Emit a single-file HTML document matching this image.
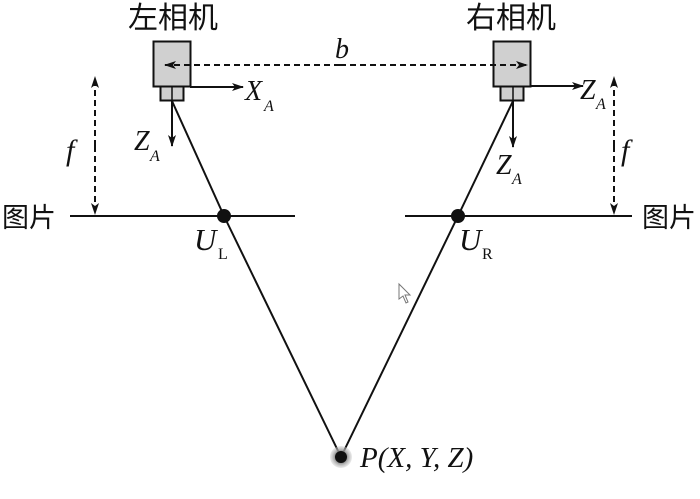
<!DOCTYPE html>
<html><head><meta charset="utf-8"><style>
html,body{margin:0;padding:0;background:#fff;}
svg{display:block;}
.cn{font-family:"Liberation Sans","Noto Sans CJK SC",sans-serif;font-size:27px;fill:#111;}
.it{font-family:"Liberation Serif",serif;font-style:italic;fill:#111;}
.rm{font-family:"Liberation Serif",serif;fill:#111;}
</style></head><body>
<svg width="700" height="499" viewBox="0 0 700 499" xmlns="http://www.w3.org/2000/svg">
<defs>
<marker id="ah" viewBox="0 0 12 8" refX="11" refY="4" markerWidth="12" markerHeight="8" markerUnits="userSpaceOnUse" orient="auto">
<path d="M0,0 L12,4 L0,8 L3,4 Z" fill="#111"/>
</marker>
<radialGradient id="halo"><stop offset="0.5" stop-color="#888"/><stop offset="1" stop-color="#ccc" stop-opacity="0.4"/></radialGradient>
</defs>
<text class="cn" x="128" y="28" font-size="30" style="font-size:30px">左相机</text>
<text class="cn" x="466" y="28" style="font-size:30px">右相机</text>
<!-- left camera -->
<rect x="153.5" y="41.5" width="37" height="45" fill="#d0d0d0" stroke="#111" stroke-width="2"/>
<rect x="160.5" y="86.5" width="23" height="14" fill="#d0d0d0" stroke="#111" stroke-width="2"/>
<line x1="172" y1="86" x2="172" y2="101" stroke="#111" stroke-width="1.5"/>
<!-- right camera -->
<rect x="493.5" y="41.5" width="37" height="45" fill="#d0d0d0" stroke="#111" stroke-width="2"/>
<rect x="500.5" y="86.5" width="23" height="14" fill="#d0d0d0" stroke="#111" stroke-width="2"/>
<line x1="513" y1="86" x2="513" y2="101" stroke="#111" stroke-width="1.5"/>
<!-- b dashed -->
<line x1="340" y1="65" x2="165" y2="65" stroke="#111" stroke-width="2" stroke-dasharray="6,4" marker-end="url(#ah)"/>
<line x1="340" y1="65" x2="527" y2="65" stroke="#111" stroke-width="2" stroke-dasharray="6,4" marker-end="url(#ah)"/>
<text class="it" x="335" y="58" font-size="28">b</text>
<!-- axes -->
<line x1="190" y1="87" x2="243" y2="87" stroke="#111" stroke-width="2" marker-end="url(#ah)"/>
<text class="it" x="245" y="100" font-size="28">X</text><text class="it" x="264" y="111" font-size="16">A</text>
<line x1="172" y1="101" x2="172" y2="146" stroke="#111" stroke-width="2" marker-end="url(#ah)"/>
<text class="it" x="134" y="150" font-size="28">Z</text><text class="it" x="150" y="161" font-size="16">A</text>
<line x1="530" y1="86" x2="583" y2="86" stroke="#111" stroke-width="2" marker-end="url(#ah)"/>
<text class="it" x="580" y="99" font-size="28">Z</text><text class="it" x="596" y="109" font-size="16">A</text>
<line x1="513" y1="101" x2="513" y2="147" stroke="#111" stroke-width="2" marker-end="url(#ah)"/>
<text class="it" x="496" y="174" font-size="28">Z</text><text class="it" x="512" y="184" font-size="16">A</text>
<!-- f arrows -->
<line x1="95" y1="146" x2="95" y2="77" stroke="#111" stroke-width="2" stroke-dasharray="6,4" marker-end="url(#ah)"/>
<line x1="95" y1="146" x2="95" y2="214" stroke="#111" stroke-width="2" stroke-dasharray="6,4" marker-end="url(#ah)"/>
<text class="it" x="66" y="160" font-size="30">f</text>
<line x1="614" y1="146" x2="614" y2="77" stroke="#111" stroke-width="2" stroke-dasharray="6,4" marker-end="url(#ah)"/>
<line x1="614" y1="146" x2="614" y2="214" stroke="#111" stroke-width="2" stroke-dasharray="6,4" marker-end="url(#ah)"/>
<text class="it" x="621" y="160" font-size="30">f</text>
<!-- image planes -->
<line x1="70" y1="216" x2="295" y2="216" stroke="#111" stroke-width="2"/>
<line x1="405" y1="216" x2="632" y2="216" stroke="#111" stroke-width="2"/>
<text class="cn" x="2" y="227">图片</text>
<text class="cn" x="642" y="227">图片</text>
<!-- rays -->
<polyline points="172,101 224,216 341,457" fill="none" stroke="#111" stroke-width="2"/>
<polyline points="513,101 458,216 341,457" fill="none" stroke="#111" stroke-width="2"/>
<circle cx="224" cy="216" r="7" fill="#111"/>
<circle cx="458" cy="216" r="7" fill="#111"/>
<text class="it" x="194" y="250" font-size="31">U</text><text class="rm" x="218" y="259" font-size="16">L</text>
<text class="it" x="459" y="250" font-size="31">U</text><text class="rm" x="482" y="259" font-size="16">R</text>
<circle cx="341" cy="457" r="11" fill="url(#halo)"/>
<circle cx="341" cy="457" r="6" fill="#111"/>
<text class="it" x="360" y="467" font-size="29">P(X, Y, Z)</text>
<!-- cursor -->
<path d="M399,284 L399,299 L403,296 L406,303 L408,302 L405,295 L410,295 Z" fill="#fff" stroke="#777" stroke-width="1"/>
</svg>
</body></html>
